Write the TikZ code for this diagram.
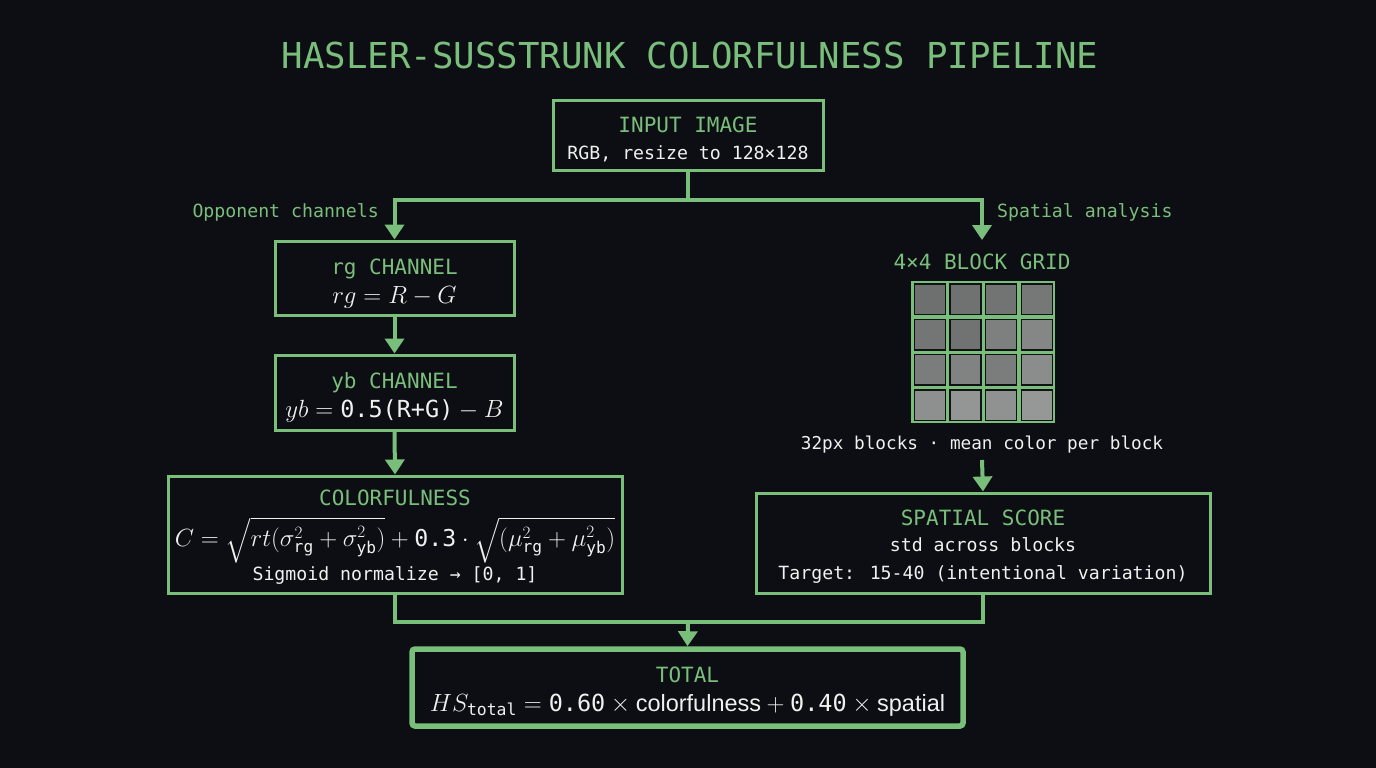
\documentclass[tikz,border=0pt]{standalone}
\usepackage{amsmath}
\usepackage{fontspec}
\setmainfont{DejaVu Sans Mono}
\newfontfamily\propsans{Liberation Sans}
\usetikzlibrary{arrows.meta}
\definecolor{bg}{HTML}{0C0E13}
\definecolor{grn}{RGB}{122,190,124}
\definecolor{wht}{HTML}{F0F0F0}
\definecolor{celledge}{HTML}{101214}
\tikzset{
  box/.style={draw=grn, line width=3pt, inner sep=0pt},
  hd/.style={text=grn, font=\fontsize{21}{25}\selectfont, anchor=base, inner sep=0pt},
  tx/.style={text=wht, font=\fontsize{18.2}{22}\selectfont, anchor=base, inner sep=0pt},
  mth/.style={text=wht, font=\fontsize{23.5}{27}\selectfont, anchor=base, inner sep=0pt},
  lab/.style={text=grn, font=\fontsize{18.2}{22}\selectfont, inner sep=0pt},
  conn/.style={draw=grn, line width=4pt},
  arr/.style={draw=grn, line width=4pt, -{Triangle[width=19pt,length=15pt]}},
}
\begin{document}
\begin{tikzpicture}[x=1pt,y=-1pt]
\fill[bg] (0,0) rectangle (1376,768);
\useasboundingbox (0,0) rectangle (1376,768);

% title
\node[text=grn, font=\fontsize{35.7}{42}\selectfont, anchor=base, inner sep=0pt] (title) at (690,68) {HASLER-SUSSTRUNK COLORFULNESS PIPELINE};

% input
\node[box, minimum width=270pt, minimum height=70pt] (inp) at (688,135) {};
\node[hd] (inpt) at (688,132) {INPUT IMAGE};
\node[tx] (inpx) at (688,159) {RGB, resize to 128×128};

% branch labels
\node[lab, anchor=base east] (opp) at (379,217) {Opponent channels};
\node[lab, anchor=base west] (spa) at (997,217) {Spatial analysis};

% rg
\node[box, minimum width=239pt, minimum height=74pt] (rg) at (394.5,278) {};
\node[hd] (rgt) at (394.5,274) {rg CHANNEL};
\node[mth] (rgx) at (394.5,303) {$rg = R - G$};

% yb
\node[box, minimum width=239pt, minimum height=75pt] (yb) at (394.5,392.5) {};
\node[hd] (ybt) at (394.5,388) {yb CHANNEL};
\node[mth] (ybx) at (394.5,417) {$yb = \text{0.5(R+G)} - B$};

% colorfulness
\node[box, minimum width=454pt, minimum height=117pt] (col) at (395,534.5) {};
\node[hd] (colt) at (395,505) {COLORFULNESS};
\node[mth, font=\fontsize{23.2}{27}\selectfont] (colx) at (395,546) {$C = \sqrt{rt(\sigma^2_{\text{rg}} + \sigma^2_{\text{yb}})} + \text{0.3}\cdot\sqrt{(\mu^2_{\text{rg}} + \mu^2_{\text{yb}})}$};
\node[tx] (colz) at (395,580) {Sigmoid normalize → [0, 1]};

% grid
\node[hd] (gridt) at (982,269) {4×4 BLOCK GRID};
\coordinate (gtop) at (982,240);
\fill[grn] (911,281) rectangle (1055,423);
\foreach \r/\row in {0/{6E7070,707272,727474,767878},1/{747676,707372,7E8080,858787},2/{7B7D7D,818383,7A7D7B,8B8D8D},3/{8E9090,949696,909292,969898}}{
  \foreach \c/\hex [count=\ci from 0] in \row {
    \definecolor{cc}{HTML}{\hex}
    \filldraw[fill=cc, draw=celledge, line width=1.5pt] (914.5+35.6*\ci,284+35.3*\r) rectangle ++(31,30.5);
  }
}
\node[tx, font=\fontsize{17.7}{21}\selectfont] (gridx) at (982,449) {32px blocks · mean color per block};
\coordinate (gbot) at (982,460);

% spatial
\node[box, minimum width=454pt, minimum height=100pt] (sp) at (983,543) {};
\node[hd] (spt) at (983,525) {SPATIAL SCORE};
\node[tx] (spx) at (983,551) {std across blocks};
\node[tx] (spz) at (983,579) {Target: 15-40 (intentional variation)};

% total
\node[draw=grn, line width=5.5pt, rounded corners=3pt, minimum width=551pt, minimum height=77pt, inner sep=0pt] (tot) at (687.5,687.5) {};
\node[hd] (tott) at (687.5,682) {TOTAL};
\node[mth] (totx) at (687.5,711) {$HS_{\text{total}} = \text{0.60}\times\text{\propsans colorfulness} + \text{0.40}\times\text{\propsans spatial}$};

% connectors
\coordinate (j1) at (688,200);
\coordinate (j2) at (688,622);
\draw[conn] (inp.south) -- (j1);
\draw[arr] (j1) -| (rg.north);
\draw[arr] (j1) -| (gtop);
\draw[arr] (rg.south) -- (yb.north);
\draw[arr] (yb.south) -- (col.north);
\draw[arr] (gbot) -- (sp.north);
\draw[conn] (col.south) |- (j2);
\draw[conn] (sp.south) |- (j2);
\draw[arr] (j2) -- (tot.north);
\end{tikzpicture}
\end{document}
